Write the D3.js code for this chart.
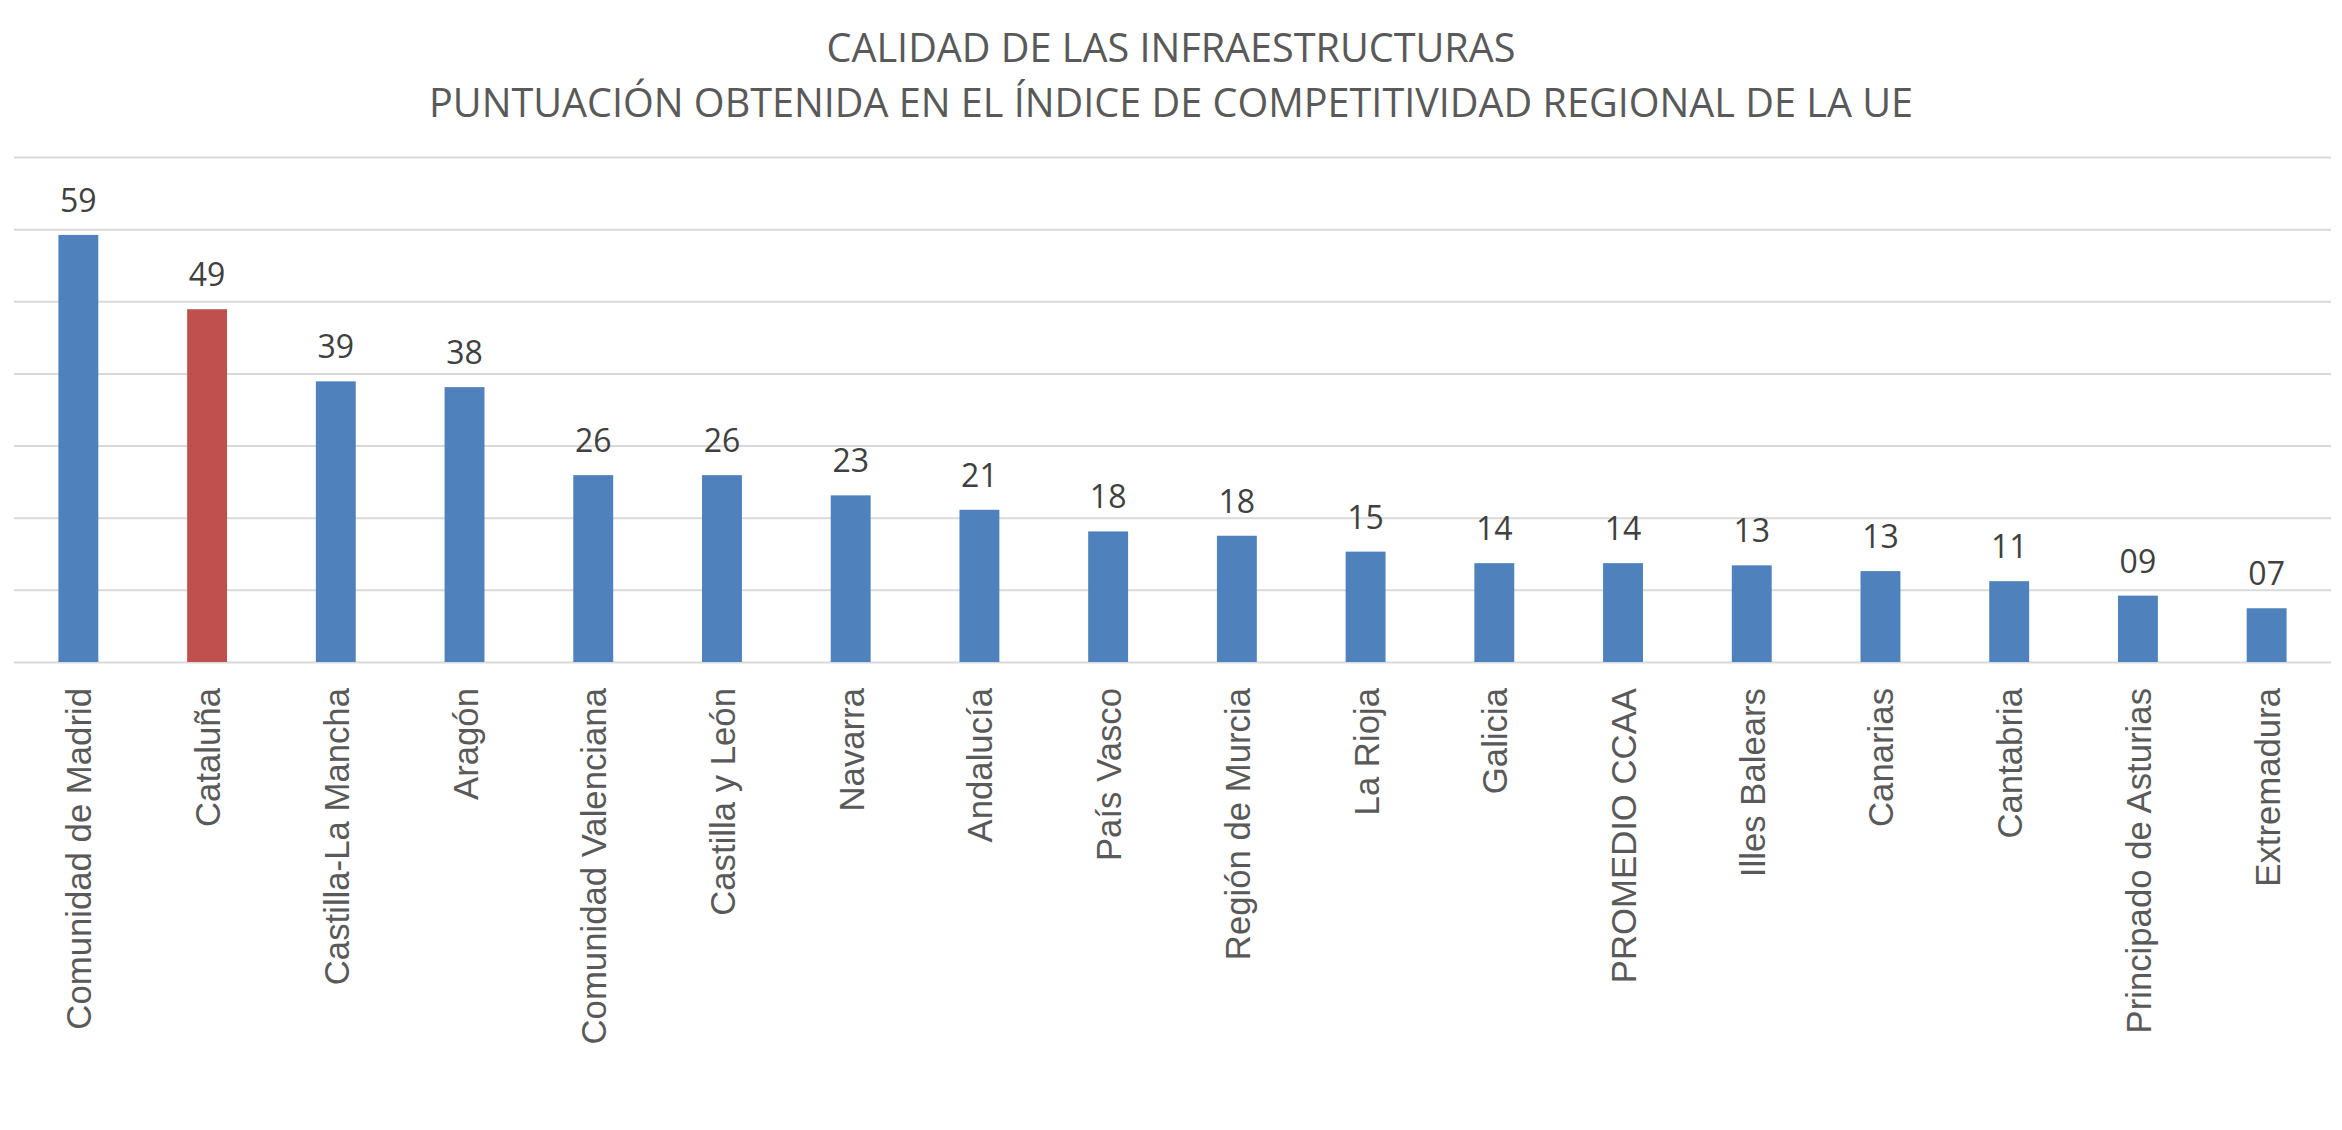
<!DOCTYPE html>
<html>
<head>
<meta charset="utf-8">
<script src="https://cdn.jsdelivr.net/npm/d3@7"></script>
<style>
  html, body { margin: 0; padding: 0; background: #ffffff; }
  svg { display: block; }
</style>
</head>
<body>
<svg id="chart" width="2342" height="1130"></svg>
<script>
const titleLines = [
  "CALIDAD DE LAS INFRAESTRUCTURAS",
  "PUNTUACIÓN OBTENIDA EN EL ÍNDICE DE COMPETITIVIDAD REGIONAL DE LA UE"
];
const categories = [
  "Comunidad de Madrid", "Cataluña", "Castilla-La Mancha", "Aragón",
  "Comunidad Valenciana", "Castilla y León", "Navarra", "Andalucía",
  "País Vasco", "Región de Murcia", "La Rioja", "Galicia",
  "PROMEDIO CCAA", "Illes Balears", "Canarias", "Cantabria",
  "Principado de Asturias", "Extremadura"
];
const values = [59.2, 48.9, 38.9, 38.1, 25.9, 25.9, 23.1, 21.1, 18.1, 17.5,
                15.3, 13.7, 13.7, 13.4, 12.6, 11.2, 9.2, 7.45];
const highlighted = ["Cataluña"];
const yTicks = [0, 10, 20, 30, 40, 50, 60, 70];

const W = 2342, H = 1130;
const svg = d3.select("#chart");

const x = d3.scaleBand()
  .domain(categories)
  .range([14, 2331])
  .paddingInner(0.69)
  .paddingOuter(0.345);

const y = d3.scaleLinear()
  .domain([0, 70])
  .range([662, 157]);

// gridlines
const grid = svg.append("g")
  .attr("transform", "translate(14,0)")
  .call(d3.axisLeft(y).tickValues(yTicks).tickSize(-(2331 - 14)).tickFormat(""));
grid.select(".domain").remove();
grid.selectAll(".tick line").attr("stroke", "#d9d9d9").attr("stroke-width", 2);

// bars
svg.append("g").selectAll("rect")
  .data(categories)
  .join("rect")
  .attr("x", d => x(d))
  .attr("width", x.bandwidth())
  .attr("y", (d, i) => y(values[i]))
  .attr("height", (d, i) => y(0) - y(values[i]))
  .attr("fill", d => highlighted.includes(d) ? "#C0504D" : "#4F81BD");

// value labels
const fmt = d3.format("02d");
svg.append("g").selectAll("text")
  .data(categories)
  .join("text")
  .attr("x", d => x(d) + x.bandwidth() / 2)
  .attr("y", (d, i) => y(values[i]) - 23)
  .attr("text-anchor", "middle")
  .attr("font-family", "'Open Sans', sans-serif")
  .attr("font-size", 32)
  .attr("fill", "#404040")
  .text((d, i) => fmt(values[i]));

// category labels
svg.append("g").selectAll("text")
  .data(categories)
  .join("text")
  .attr("transform", d => `translate(${x(d) + x.bandwidth() / 2},688) rotate(-90) scale(0.965,1)`)
  .attr("text-anchor", "end")
  .attr("dy", "0.36em")
  .attr("font-family", "'Liberation Sans', Arial, sans-serif")
  .attr("font-size", 36)
  .attr("fill", "#595959")
  .text(d => d);

// title
const titleWidths = [689, 1484];
const titleBaselines = [62, 117];
svg.append("g").selectAll("text")
  .data(titleLines)
  .join("text")
  .attr("x", W / 2)
  .attr("y", (d, i) => titleBaselines[i])
  .attr("text-anchor", "middle")
  .attr("font-family", "'Open Sans', sans-serif")
  .attr("font-size", 40)
  .attr("fill", "#595959")
  .attr("textLength", (d, i) => titleWidths[i])
  .attr("lengthAdjust", "spacingAndGlyphs")
  .text(d => d);
</script>
</body>
</html>
